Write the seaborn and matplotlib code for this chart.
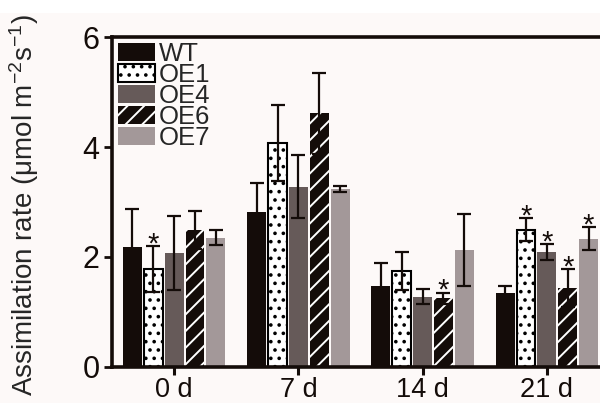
import numpy as np
import pandas as pd
import matplotlib
matplotlib.use("Agg")
import matplotlib.pyplot as plt
from matplotlib.patches import Rectangle
import seaborn as sns

# Values
days = ["0 d", "7 d", "14 d", "21 d"]
lines = ["WT", "OE1", "OE4", "OE6", "OE7"]

wt_mean = [2.19, 2.81, 1.48, 1.35]
oe1_mean = [1.78, 4.08, 1.75, 2.50]
oe4_mean = [2.07, 3.28, 1.28, 2.09]
oe6_mean = [2.49, 4.61, 1.25, 1.44]
oe7_mean = [2.35, 3.24, 2.13, 2.33]

wt_sd = [0.68, 0.54, 0.42, 0.13]
oe1_sd = [0.42, 0.69, 0.35, 0.21]
oe4_sd = [0.67, 0.57, 0.14, 0.14]
oe6_sd = [0.35, 0.73, 0.10, 0.34]
oe7_sd = [0.14, 0.06, 0.65, 0.21]

# significance marks (*)
wt_sig = [0, 0, 0, 0]
oe1_sig = [1, 0, 0, 1]
oe4_sig = [0, 0, 0, 1]
oe6_sig = [0, 0, 1, 1]
oe7_sig = [0, 0, 0, 1]

means = [wt_mean, oe1_mean, oe4_mean, oe6_mean, oe7_mean]
sds = [wt_sd, oe1_sd, oe4_sd, oe6_sd, oe7_sd]
sigs = [wt_sig, oe1_sig, oe4_sig, oe6_sig, oe7_sig]

colors = ["#140c09", "#ffffff", "#665a59", "#140c09", "#a39899"]
hatches = [None, "..", None, "//", None]

rows = []
for line, m in zip(lines, means):
    for d, v in zip(days, m):
        rows.append({"day": d, "line": line, "rate": v})
df = pd.DataFrame(rows)

sns.set_style("ticks")
plt.rcParams["font.family"] = ["Liberation Sans", "DejaVu Sans"]
plt.rcParams["mathtext.default"] = "regular"
plt.rcParams["hatch.linewidth"] = 1.4

bg = "#fdf9f8"
fig = plt.figure(figsize=(6.0, 4.03), dpi=100, facecolor=bg)
fig.patches.append(Rectangle((0, 1 - 13 / 403), 1, 13 / 403, transform=fig.transFigure,
                             facecolor="white", edgecolor="none", zorder=-1))
ax = fig.add_axes([112 / 600, 36 / 403, 497 / 600, 330 / 403])
ax.set_facecolor(bg)

sns.barplot(data=df, x="day", y="rate", hue="line", hue_order=lines, order=days,
            palette=colors, width=0.84, gap=0.1, errorbar=None, saturation=1,
            legend=False, ax=ax)

bar_groups = list(ax.containers)
handles = []
for i, cont in enumerate(bar_groups):
    for j, bar in enumerate(cont):
        if lines[i] == "OE1":
            bar.set_edgecolor("black")
            bar.set_linewidth(1.5)
            bar.set_hatch(hatches[i])
        elif lines[i] == "OE6":
            bar.set_edgecolor("white")
            bar.set_linewidth(0)
            bar.set_hatch(hatches[i])
        else:
            bar.set_linewidth(0)
        xc = bar.get_x() + bar.get_width() / 2
        top = bar.get_height()
        ax.errorbar(xc, top, yerr=sds[i][j], fmt="none", ecolor="#140c09",
                    elinewidth=1.6, capsize=4.8, capthick=1.6, zorder=5)
        if sigs[i][j]:
            ax.annotate("*", (xc, top + sds[i][j]), xytext=(0, -4.5), textcoords="offset points",
                        ha="center", va="baseline", fontsize=21, color="#140c09")
    handles.append(cont[0])

leg = ax.legend(handles=handles, labels=lines, loc="upper left",
                bbox_to_anchor=(0.002, 1.0), frameon=False, fontsize=18.5,
                handlelength=1.45, handleheight=0.7, handletextpad=0.12,
                labelspacing=-0.12, borderpad=0.2, borderaxespad=0)

ax.set_ylim(0, 6)
ax.set_xlim(-0.5, 3.5)
ax.set_yticks([0, 2, 4, 6])
ax.set_xlabel("")
ax.set_ylabel(r"Assimilation rate (μmol m$^{-2}$s$^{-1}$)", fontsize=20)
ax.yaxis.set_label_coords(-0.143, 0.49)

for s in ["left", "bottom", "top", "right"]:
    ax.spines[s].set_visible(True)
    ax.spines[s].set_linewidth(2.6)
    ax.spines[s].set_color("#140c09")
ax.tick_params(axis="y", labelsize=22, length=6, width=2, pad=3, colors="#140c09")
ax.tick_params(axis="x", labelsize=19.5, length=6, width=2.2, pad=1, colors="#140c09")

fig.savefig("out.png", dpi=100, facecolor=bg)
